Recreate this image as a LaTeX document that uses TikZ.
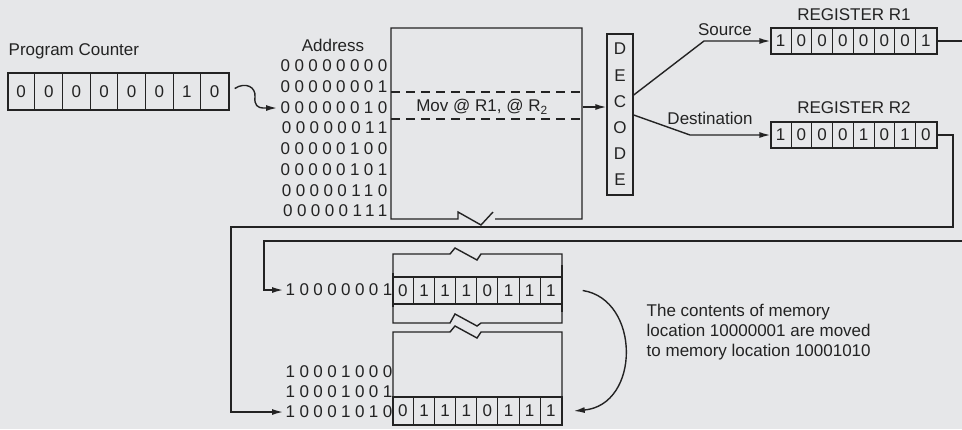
\documentclass[tikz,border=0pt]{standalone}
\usepackage{fontspec}
\setmainfont{Liberation Sans}
\newfontfamily\spaced[LetterSpace=26]{Liberation Sans}
\usetikzlibrary{arrows.meta,calc}
\definecolor{bg}{HTML}{E6E7E9}
\definecolor{ink}{HTML}{232323}
\newcommand\bitrow[5]{%
  \node[draw, minimum width=#3pt, minimum height=#4pt, inner sep=0pt] (#1) at (#2) {};
  \foreach \d [count=\i] in {#5} {\node[inner sep=0pt] (#1-\i) at ($(#1.west)+({(\i-0.5)*#3/8},0)$) {\d};}
  \foreach \i in {1,...,7} {\draw[line width=1pt] ($(#1.north west)+({\i*#3/8},0)$) -- ($(#1.south west)+({\i*#3/8},0)$);}
}
\tikzset{
  lbl/.style={inner sep=0pt},
  addr/.style={inner sep=0pt, font=\spaced, anchor=east},
  arr/.style={-{Latex[length=11pt,width=6pt]}},
}
\begin{document}
\fontsize{17}{20}\selectfont
\begin{tikzpicture}[x=1pt, y=-1pt, line width=1.4pt, draw=ink, text=ink, color=ink]
\fill[bg] (0,0) rectangle (962,429);
\useasboundingbox (0,0) rectangle (962,429);

% program counter
\node[lbl, anchor=west] (pclbl) at (8,51) {Program Counter};
\bitrow{pc}{118.5,91.5}{221}{37}{0,0,0,0,0,0,1,0}

% address column
\node[lbl] (addrlbl) at (333,45) {Address};
\node[addr] (a0) at (388,66) {00000000};
\node[addr] (a1) at (388,87) {00000001};
\node[addr] (a2) at (388,108) {00000010};
\node[addr] (a3) at (388,128) {00000011};
\node[addr] (a4) at (388,149) {00000100};
\node[addr] (a5) at (388,170) {00000101};
\node[addr] (a6) at (388,191) {00000110};
\node[addr] (a7) at (388,211) {00000111};

\draw[arr] ([xshift=5pt,yshift=3pt]pc.east) .. controls +(11,-7) and +(1,-10) .. (255,97)
  .. controls +(-1,8) and +(-5,0) .. (263,108) -- ([xshift=-3pt]a2.west);

% memory block
\node[inner sep=0pt, minimum width=191pt, minimum height=191pt] (mem) at (486.5,123.5) {};
\draw (495,219) -- (582,219) -- (582,28) -- (391,28) -- (391,219) -- (458,219) -- (458,212) -- (481,225) -- (493,212);
\draw[dash pattern=on 9pt off 6pt] (391,92) -- (582,92);
\draw[dash pattern=on 9pt off 6pt] (391,119) -- (582,119);
\node[lbl] (instr) at (482,107) {Mov @ R1, @ R\textsubscript{2}};

% decoder
\node[draw, minimum width=26pt, minimum height=161pt, inner sep=0pt, align=center,
      font=\fontsize{17}{26.2}\selectfont] (dec) at (620,114.5) {D\\E\\C\\O\\D\\E};
\draw[arr] (mem.east |- instr) -- (dec.west |- instr);

% registers
\node[lbl] (r1lbl) at (854,15) {REGISTER R1};
\bitrow{r1}{854,41}{166}{26}{1,0,0,0,0,0,0,1}
\node[lbl] (r2lbl) at (854,108) {REGISTER R2};
\bitrow{r2}{854,135}{166}{26}{1,0,0,0,1,0,1,0}

\draw[arr] (dec.east |- 0,95) -- (704,41) -- (r1.west);
\node[lbl] (src) at (725,30) {Source};
\draw[arr] (dec.east |- 0,115) -- (690,135) -- (r2.west);
\node[lbl] (dst) at (710,118) {Destination};

% lower memory
\node[addr] (m1) at (393,290) {10000001};
\node[addr] (b0) at (393,372) {10001000};
\node[addr] (b1) at (393,392) {10001001};
\node[addr] (b2) at (393,412) {10001010};

\draw (393,323) -- (393,254) -- (450,254) -- (455,248) -- (477,260) -- (481,254) -- (562,254) -- (562,323)
      -- (481,323) -- (477,326) -- (455,314) -- (450,323) -- cycle;
\bitrow{u}{477.5,290.5}{169}{27}{0,1,1,1,0,1,1,1}
\draw[line width=2.4pt] (393,273) -- (393,307);
\draw[line width=2.4pt] (562,265) -- (562,312);

\draw (393,425) -- (393,332) -- (450,332) -- (455,326) -- (477,338) -- (481,332) -- (562,332) -- (562,425);
\bitrow{l}{477.5,411}{169}{28}{0,1,1,1,0,1,1,1}

% connectors from registers
\coordinate (edgeA) at (962,41);
\coordinate (edgeB) at (962,241);
\draw (r1.east) -- (edgeA);
\draw[arr] (r2.east) -- (953,135) -- (953,227) -- (231,227) -- (231,412) -- ([xshift=-2pt]b2.west);
\draw[arr] (edgeB) -- (264,241) -- (264,290) -- ([xshift=-2pt]m1.west);

% move arrow
\draw[arr] ([xshift=20pt]u.east) .. controls +(58,9) and +(67,-6) .. ([xshift=11pt]l.east);

\node[lbl, anchor=north west, align=left, font=\fontsize{17}{20}\selectfont] (note) at (646,303)
  {The contents of memory\\location 10000001 are moved\\to memory location 10001010};
\end{tikzpicture}
\end{document}
